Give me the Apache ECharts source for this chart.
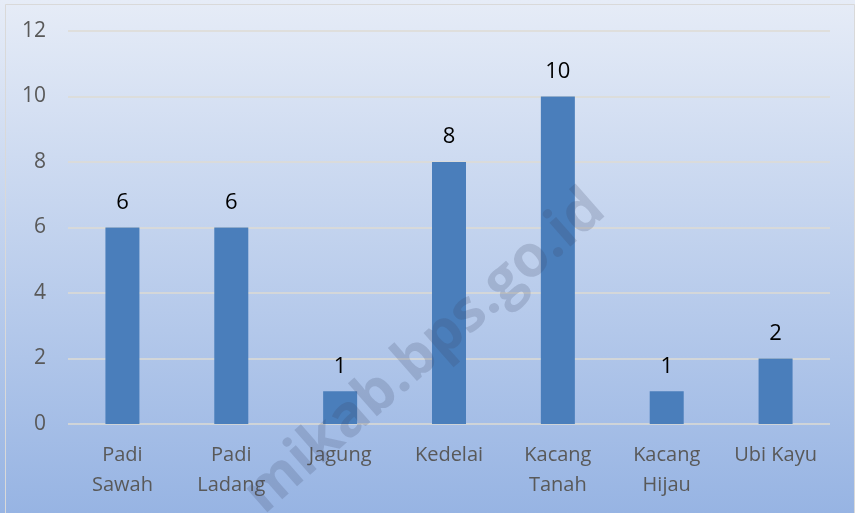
<!DOCTYPE html>
<html>
<head>
<meta charset="utf-8">
<script src="https://cdn.jsdelivr.net/npm/echarts@6/dist/echarts.min.js"></script>
<style>
html,body{margin:0;padding:0;}
#chart{width:855px;height:513px;}
</style>
</head>
<body>
<div id="chart"></div>
<script>
var categories = ['Padi\nSawah', 'Padi\nLadang', 'Jagung', 'Kedelai', 'Kacang\nTanah', 'Kacang\nHijau', 'Ubi Kayu'];
var values = [6, 6, 1, 8, 10, 1, 2];
var yTicks = [0, 2, 4, 6, 8, 10, 12];

var myChart = echarts.init(document.getElementById('chart'));
var option = {
	backgroundColor: {
		type: 'linear', x: 0, y: 0, x2: 0, y2: 1,
		colorStops: [
			{offset: 0, color: '#e6ecf7'},
			{offset: 1, color: '#97b4e3'}
		]
	},
	textStyle: {fontFamily: 'Open Sans'},
	grid: {left: 68, right: 25, top: 31, bottom: 89},
	xAxis: {
		type: 'category',
		data: categories,
		axisLine: {show: false},
		axisTick: {show: false},
		axisLabel: {color: '#595959', fontSize: 20, margin: 16, lineHeight: 30, interval: 0}
	},
	yAxis: {
		type: 'value',
		min: yTicks[0],
		max: yTicks[yTicks.length - 1],
		interval: 2,
		axisLine: {show: false},
		axisTick: {show: false},
		axisLabel: {color: '#595959', fontSize: 21, margin: 22},
		splitLine: {lineStyle: {color: '#dedbd3', width: 1.5}}
	},
	series: [{
		type: 'bar',
		data: values,
		barWidth: 34,
		itemStyle: {color: '#4a7ebb'},
		label: {show: true, position: 'top', color: '#000', fontSize: 22, distance: 14}
	}],
	graphic: [
		{
			type: 'rect',
			left: 3, top: 2,
			shape: {width: 849, height: 509},
			style: {fill: 'none', stroke: '#d9d9d9', lineWidth: 1},
			silent: true
		},
		{
			type: 'text',
			x: 425, y: 352,
			rotation: 0.72,
			style: {
				text: 'mikab.bps.go.id',
				font: 'bold 58px "Open Sans"',
				fill: 'rgba(60,70,100,0.2)',
				align: 'center',
				verticalAlign: 'middle'
			},
			silent: true,
			z: 100
		}
	]
};
myChart.setOption(option);
</script>
</body>
</html>
